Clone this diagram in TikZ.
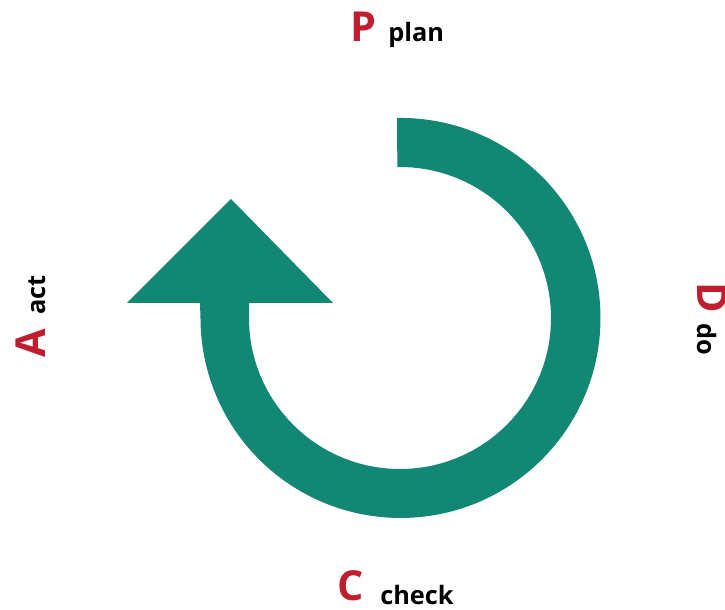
\documentclass[tikz,border=0pt]{standalone}
\usepackage{fontspec}
\setmainfont{Open Sans}
\definecolor{cyclegreen}{RGB}{18,135,115}
\definecolor{letterred}{RGB}{190,30,45}
\tikzset{
  letter/.style={inner sep=0pt,font=\bfseries\fontsize{31}{31}\selectfont,text=letterred},
  word/.style={inner sep=0pt,font=\bfseries\fontsize{19}{19}\selectfont}
}

\begin{document}
\begin{tikzpicture}[x=0.75pt,y=0.75pt]
  \useasboundingbox (0,0) rectangle (725,610);
  \coordinate (O) at (400,292);
  % ring with the arrow head on the left
  \fill[cyclegreen] (397,492) arc (91:-180:200) -- (200,307) -- (127,307)
    -- (231,411) -- (333,307) -- (249,307) -- (249,292)
    arc (180:451:151) -- cycle;
  % labels
  \node[letter,anchor=base west] (P) at (350,568) {P};
  \node[word,anchor=base west] (plan) at (388,568) {plan};
  \node[letter,anchor=base west,rotate=-90] (D) at (697,328) {D};
  \node[word,anchor=base west,rotate=-90] (do) at (697,287) {do};
  \node[letter,anchor=base west] (C) at (337,9) {C};
  \node[word,anchor=base west] (check) at (380,5) {check};
  \node[letter,anchor=base west,rotate=90] (A) at (45,252) {A};
  \node[word,anchor=base west,rotate=90] (act) at (45,295) {act};
\end{tikzpicture}
\end{document}
